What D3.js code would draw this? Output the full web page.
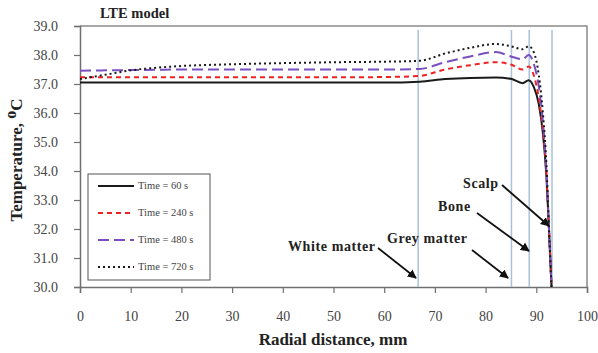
<!DOCTYPE html>
<html><head><meta charset="utf-8">
<script src="https://cdn.jsdelivr.net/npm/d3@7"></script>
<style>body{margin:0;background:#fff}svg{display:block}</style>
</head><body><svg id="c" width="598" height="353"></svg>
<script>
const radius = [0, 5, 10, 15, 20, 30, 40, 50, 60, 67, 72, 77, 82, 85, 87.3, 88.5, 89.5, 90.5, 91.3, 92, 92.5, 93];
const t60  = [37.05,37.05,37.05,37.05,37.05,37.05,37.05,37.05,37.05,37.08,37.17,37.21,37.22,37.18,37.03,37.13,36.9,36.3,35.3,33.8,32.0,30.0];
const t240 = [37.23,37.23,37.23,37.23,37.23,37.23,37.23,37.23,37.24,37.28,37.5,37.65,37.75,37.67,37.5,37.6,37.3,36.5,35.4,33.9,32.0,30.0];
const t480 = [37.46,37.47,37.48,37.49,37.5,37.5,37.5,37.5,37.5,37.52,37.75,37.95,38.1,37.95,37.85,38.0,37.7,36.9,35.7,34.0,32.0,30.0];
const t720 = [37.17,37.32,37.47,37.56,37.62,37.68,37.72,37.75,37.77,37.8,38.05,38.25,38.38,38.3,38.2,38.3,38.1,37.3,36.0,34.2,32.0,30.0];
const seriesNames = ["Time = 60 s","Time = 240 s","Time = 480 s","Time = 720 s"];
const xTicks = [0,10,20,30,40,50,60,70,80,90,100];
const yTicks = [30,31,32,33,34,35,36,37,38,39];
const boundaries = [66.7, 85.1, 88.6, 93.1];
const layerLabels = ["White matter","Grey matter","Bone","Scalp"];

const svg = d3.select("#c");
const L=80,R=587,T=26,B=287;
const x = d3.scaleLinear().domain([0,100]).range([L,R]);
const y = d3.scaleLinear().domain([30,39]).range([B,T]);
const serif = "'Liberation Serif','Times New Roman',serif";

// frame top/right
svg.append("path").attr("d",`M${L},${T}H${R}V${B}`).attr("fill","none").attr("stroke","#8a8a8a").attr("stroke-width",1.5);

// axes
const xa = svg.append("g").attr("transform",`translate(0,${B})`)
  .call(d3.axisBottom(x).tickValues(xTicks).tickSize(6).tickPadding(18).tickFormat(d3.format("d")));
const ya = svg.append("g").attr("transform",`translate(${L},0)`)
  .call(d3.axisLeft(y).tickValues(yTicks).tickSize(6).tickPadding(16).tickFormat(d3.format(".1f")));
[xa,ya].forEach(a=>{
  a.select(".domain").attr("stroke","#707070").attr("stroke-width",1.5);
  a.selectAll(".tick line").attr("stroke","#707070").attr("stroke-width",1.2);
  a.selectAll("text").attr("font-family",serif).attr("font-size",14).attr("fill","#444");
});

// boundaries
svg.append("g").selectAll("line").data(boundaries).join("line")
  .attr("x1",d=>x(d)).attr("x2",d=>x(d)).attr("y1",30).attr("y2",B)
  .attr("stroke","#a9c1d9").attr("stroke-width",1.5);

// series
const styles = [
  {c:"#1a1a1a",w:2,da:null},
  {c:"#ee2222",w:2,da:"5,4"},
  {c:"#7a4fc0",w:2,da:"11,5"},
  {c:"#1a1a1a",w:2,da:"2,3"}
];
const all=[t60,t240,t480,t720];
const line = d3.line().x((d,i)=>x(radius[i])).y(d=>y(d)).curve(d3.curveMonotoneX);
all.forEach((s,k)=>{
  svg.append("path").datum(s).attr("d",line).attr("fill","none")
    .attr("stroke",styles[k].c).attr("stroke-width",styles[k].w)
    .attr("stroke-dasharray",styles[k].da);
});

// legend
const lg = svg.append("g");
lg.append("rect").attr("x",88).attr("y",174).attr("width",122).attr("height",106)
  .attr("fill","#fff").attr("stroke","#555").attr("stroke-width",1);
seriesNames.forEach((n,k)=>{
  const yy = 186 + k*27;
  lg.append("line").attr("x1",98).attr("x2",134).attr("y1",yy).attr("y2",yy)
    .attr("stroke",styles[k].c).attr("stroke-width",styles[k].w).attr("stroke-dasharray",styles[k].da);
  lg.append("text").attr("x",138).attr("y",yy+3).text(n)
    .attr("font-family",serif).attr("font-size",10.5).attr("fill","#444");
});

// annotations
svg.append("defs").append("marker").attr("id","ah").attr("viewBox","0 0 10 10")
  .attr("refX",9).attr("refY",5).attr("markerWidth",5).attr("markerHeight",5).attr("orient","auto")
  .append("path").attr("d","M0,0L10,5L0,10z").attr("fill","#111");
const ann = [
  {t:layerLabels[0],tx:288,ty:251,x1:378,y1:248,x2:416,y2:278},
  {t:layerLabels[1],tx:387,ty:243,x1:472,y1:250,x2:508,y2:278},
  {t:layerLabels[2],tx:438,ty:211,x1:477,y1:213,x2:529,y2:251},
  {t:layerLabels[3],tx:463,ty:188,x1:502,y1:185,x2:549,y2:226}
];
ann.forEach(a=>{
  svg.append("text").attr("x",a.tx).attr("y",a.ty).text(a.t)
    .attr("font-family",serif).attr("font-size",14).attr("letter-spacing",0.6).attr("font-weight","bold").attr("fill","#222");
  svg.append("line").attr("x1",a.x1).attr("y1",a.y1).attr("x2",a.x2).attr("y2",a.y2)
    .attr("stroke","#111").attr("stroke-width",1.8).attr("marker-end","url(#ah)");
});

// titles
svg.append("text").attr("x",100).attr("y",18).text("LTE model")
  .attr("font-family",serif).attr("font-size",14.5).attr("font-weight","bold").attr("fill","#222");
svg.append("text").attr("x",333).attr("y",345).attr("text-anchor","middle").text("Radial distance, mm")
  .attr("font-family",serif).attr("font-size",17).attr("font-weight","bold").attr("fill","#222");
const yt = svg.append("text").attr("transform","translate(22,160) rotate(-90)").attr("text-anchor","middle")
  .attr("font-family",serif).attr("font-size",17).attr("font-weight","bold").attr("fill","#222");
yt.append("tspan").text("Temperature, ");
yt.append("tspan").attr("dy",-6).attr("font-size",16).text("o");
yt.append("tspan").attr("dy",6).text("C");
</script></body></html>
